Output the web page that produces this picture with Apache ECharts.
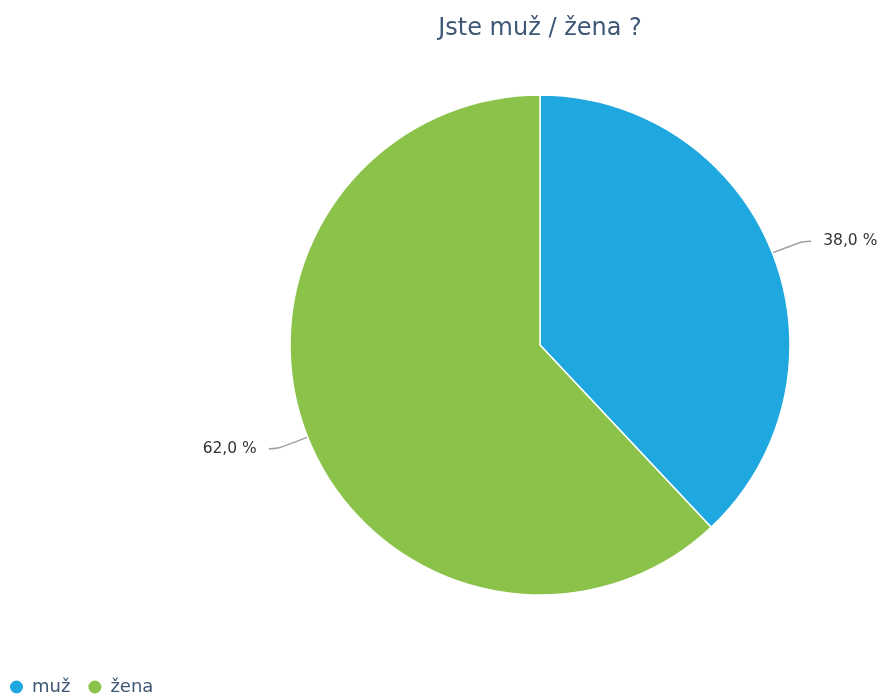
<!DOCTYPE html>
<html><head><meta charset="utf-8">
<script src="https://cdn.jsdelivr.net/npm/echarts@6/dist/echarts.min.js"></script>
<style>html,body{margin:0;padding:0;background:#fff}#c{width:885px;height:695px}</style>
</head><body><div id="c"></div>
<script>
const categories = ['muž', 'žena'];
const values = [38.0, 62.0];
const colors = ['#1fa8e0', '#8bc34a'];
const chart = echarts.init(document.getElementById('c'));
chart.setOption({
  animation: false,
  color: colors,
  title: {
    text: 'Jste muž / žena ?', left: 535, top: 12, textAlign: 'center',
    textStyle: { fontFamily: 'DejaVu Sans', fontSize: 24, fontWeight: 'normal', color: '#3d5775' }
  },
  legend: {
    left: 3, top: 673, icon: 'circle', itemWidth: 15, itemHeight: 15, itemGap: 16,
    textStyle: { fontFamily: 'DejaVu Sans', fontSize: 18, color: '#3d5775', padding: [0, 0, 0, 3] },
    data: categories
  },
  series: [{
    type: 'pie',
    center: [540, 345],
    radius: [0, 250],
    startAngle: 90,
    clockwise: true,
    itemStyle: { borderColor: '#fff', borderWidth: 1.5 },
    label: {
      fontFamily: 'DejaVu Sans', fontSize: 15.5, color: '#333',
      distanceToLabelLine: 12, overflow: 'none', edgeDistance: 2,
      formatter: p => p.value.toFixed(1).replace('.', ',') + ' %'
    },
    labelLine: { length: 32, length2: 9, smooth: 0.5, lineStyle: { color: '#a0a0a0', width: 1.4 } },
    data: categories.map((n, i) => ({ name: n, value: values[i] }))
  }]
});
</script></body></html>
